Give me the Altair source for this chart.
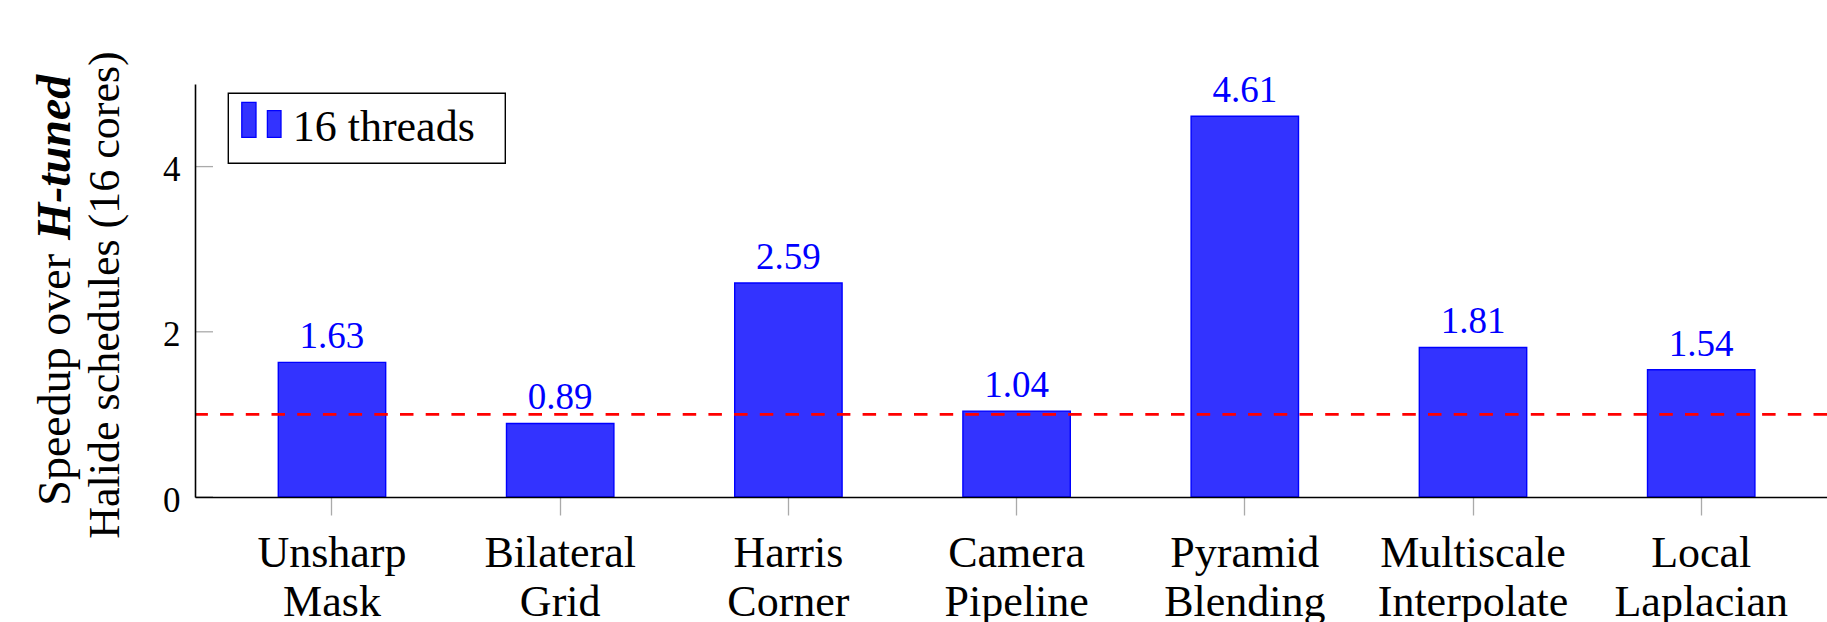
import altair as alt
import pandas as pd

# Benchmark speedups (16 threads) relative to hand-tuned Halide schedules
benchmarks = [
    "Unsharp Mask",
    "Bilateral Grid",
    "Harris Corner",
    "Camera Pipeline",
    "Pyramid Blending",
    "Multiscale Interpolate",
    "Local Laplacian",
]
speedup_16 = [1.63, 0.89, 2.59, 1.04, 4.61, 1.81, 1.54]
series_name = "16 threads"
baseline = [1.0]
y_ticks = [0, 2, 4]
y_title_lead = "Speedup over"
y_title_emph = "H-tuned"
y_title_line2 = "Halide schedules (16 cores)"

FONT = "'Liberation Serif', 'Times New Roman', 'DejaVu Serif', serif"
BAR_FILL = "#3333ff"
BAR_EDGE = "#0000ff"
# two-bar legend glyph, in the unit square used by Vega symbols
LEGEND_ICON = "M-0.98,-0.875H-0.27V0.875H-0.98Z M0.3,-0.455H0.98V0.875H0.3Z"

W, H = 1632, 413

df = pd.DataFrame({"benchmark": benchmarks, "speedup": speedup_16})

x_enc = alt.X(
    "benchmark:N",
    sort=benchmarks,
    scale=alt.Scale(range=[0, 1643.2], paddingInner=0.5294, paddingOuter=0.365),
    axis=alt.Axis(
        title=None,
        labelAngle=0,
        labelExpr="split(datum.label, ' ')",
        labelFont=FONT,
        labelFontSize=44,
        labelLineHeight=49,
        labelColor="black",
        labelPadding=16,
        labelLimit=500,
        labelOverlap=False,
        labelBound=False,
        labelFlush=False,
        tickSize=18,
        tickColor="#aaaaaa",
        tickWidth=1.3,
        domainColor="black",
        domainWidth=1.6,
        grid=False,
        zindex=1,
    ),
)

y_enc = alt.Y(
    "speedup:Q",
    scale=alt.Scale(domain=[0, 5], nice=False, zero=True),
    axis=alt.Axis(
        title=None,
        values=y_ticks,
        format="d",
        labelFont=FONT,
        labelFontSize=35,
        labelColor="black",
        labelPadding=15,
        labelBaseline="middle",
        labelOffset=3,
        labelFlush=False,
        ticks=False,
        domainColor="black",
        domainWidth=1.6,
        grid=False,
        zindex=1,
    ),
)

base = alt.Chart(df).encode(x=x_enc, y=y_enc)

bars = base.mark_bar(fill=BAR_FILL, stroke=BAR_EDGE, strokeWidth=1.4)

values = base.mark_text(
    font=FONT, fontSize=37, color=BAR_EDGE, baseline="alphabetic", dy=-14
).encode(text=alt.Text("speedup:Q", format=".2f"))

# inward tick marks on the value axis
inner_ticks = (
    alt.Chart(pd.DataFrame({"speedup": y_ticks}))
    .mark_rule(color="#aaaaaa", strokeWidth=1.3)
    .encode(y=y_enc, x=alt.value(0), x2=alt.value(18))
)

# parity reference line
parity = (
    alt.Chart(pd.DataFrame({"speedup": baseline}))
    .mark_rule(color="#ff0000", strokeWidth=2.6, strokeDash=[13.5, 12.2])
    .encode(y=y_enc)
)

# two-line rotated axis title, with the emphasized term in bold italic
title_df = pd.DataFrame(
    {"lead": [y_title_lead], "emph": [y_title_emph], "line2": [y_title_line2]}
)
title_lead = (
    alt.Chart(title_df)
    .mark_text(angle=270, align="right", baseline="alphabetic", font=FONT, fontSize=46, color="black")
    .encode(text="lead:N", x=alt.value(-125), y=alt.value(170))
)
title_emph = (
    alt.Chart(title_df)
    .mark_text(
        angle=270, align="left", baseline="alphabetic", font=FONT, fontSize=48,
        fontStyle="italic", fontWeight="bold", color="black",
    )
    .encode(text="emph:N", x=alt.value(-125), y=alt.value(156))
)
title_line2 = (
    alt.Chart(title_df)
    .mark_text(angle=270, align="center", baseline="alphabetic", font=FONT, fontSize=44, color="black")
    .encode(text="line2:N", x=alt.value(-76), y=alt.value(211))
)

# legend box in the upper-left corner of the plot
legend_df = pd.DataFrame({"series": [series_name]})
legend_box = (
    alt.Chart(legend_df)
    .mark_rect(fill="white", stroke="black", strokeWidth=1.4)
    .encode(x=alt.value(33.3), x2=alt.value(310.3), y=alt.value(9.3), y2=alt.value(79.3))
)
legend_icon = (
    alt.Chart(legend_df)
    .mark_point(
        shape=LEGEND_ICON, filled=True, fill=BAR_FILL, stroke=BAR_EDGE,
        strokeWidth=1.3, size=1600, opacity=1,
    )
    .encode(x=alt.value(66.4), y=alt.value(35.8))
)
legend_text = (
    alt.Chart(legend_df)
    .mark_text(align="left", baseline="alphabetic", font=FONT, fontSize=44, color="black")
    .encode(text="series:N", x=alt.value(97.7), y=alt.value(56.7))
)

chart = (
    alt.layer(
        bars, values, inner_ticks, parity,
        title_lead, title_emph, title_line2,
        legend_box, legend_icon, legend_text,
    )
    .properties(
        width=W,
        height=H,
        padding={"left": 195, "top": 84, "right": 0, "bottom": 125},
        autosize=alt.AutoSizeParams(type="none"),
        background="white",
    )
    .configure_view(stroke=None)
)

chart.save("out.html", embed_options={"renderer": "svg", "actions": False})
